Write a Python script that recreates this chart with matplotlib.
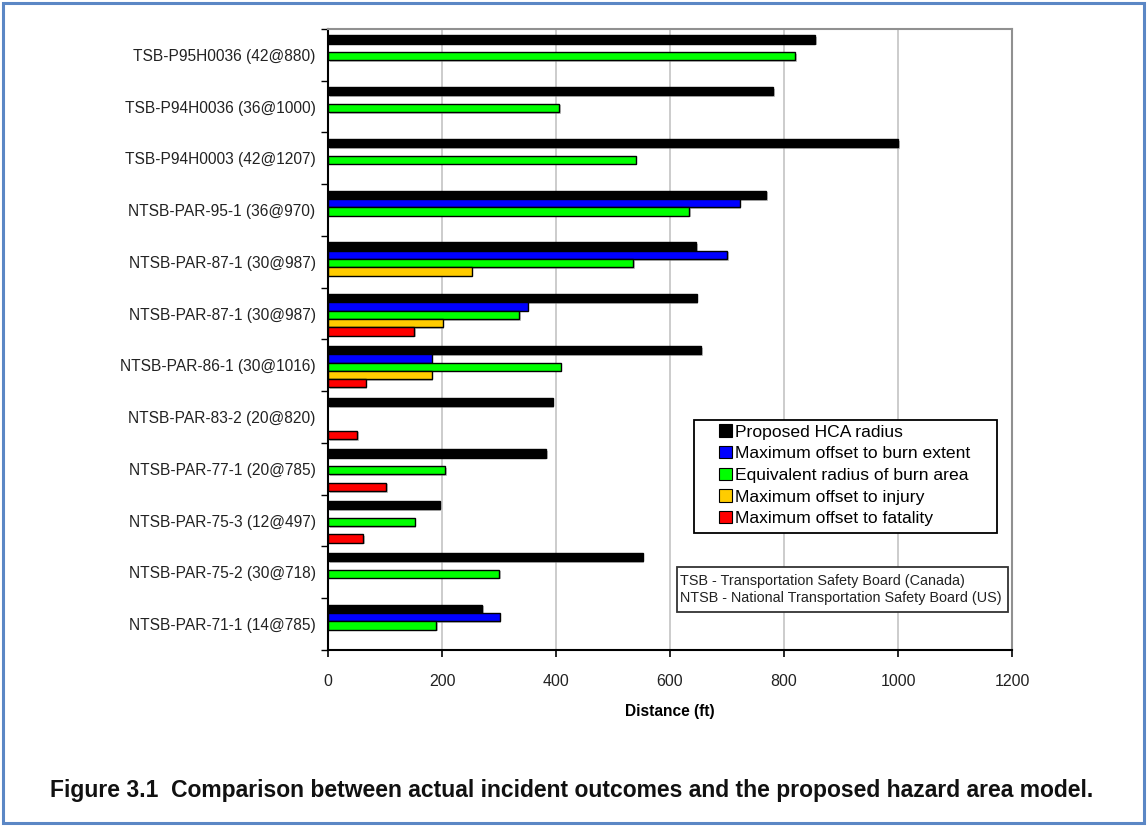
import numpy as np
import matplotlib
matplotlib.use("Agg")
import matplotlib.pyplot as plt
from matplotlib.patches import Rectangle, Patch
import matplotlib.patheffects as pe

plt.rcParams["font.family"] = ["Liberation Sans", "DejaVu Sans"]

# ==========================
# DATA (ft), None = not reported
# ==========================
incidents = [
    "TSB-P95H0036 (42@880)",
    "TSB-P94H0036 (36@1000)",
    "TSB-P94H0003 (42@1207)",
    "NTSB-PAR-95-1 (36@970)",
    "NTSB-PAR-87-1 (30@987)",
    "NTSB-PAR-87-1 (30@987)",
    "NTSB-PAR-86-1 (30@1016)",
    "NTSB-PAR-83-2 (20@820)",
    "NTSB-PAR-77-1 (20@785)",
    "NTSB-PAR-75-3 (12@497)",
    "NTSB-PAR-75-2 (30@718)",
    "NTSB-PAR-71-1 (14@785)",
]
hca_radius = [855, 781, 1000, 769, 646, 647, 655, 394, 383, 196, 552, 270]
burn_extent = [None, None, None, 722, 700, 350, 182, None, None, None, None, 301]
burn_radius = [820, 405, 540, 634, 535, 335, 408, None, 205, 152, 300, 190]
injury = [None, None, None, None, 252, 201, 182, None, None, None, None, None]
fatality = [None, None, None, None, None, 151, 66, 51, 102, 62, None, None]

series_names = [
    "Proposed HCA radius",
    "Maximum offset to burn extent",
    "Equivalent radius of burn area",
    "Maximum offset to injury",
    "Maximum offset to fatality",
]
series_vals = [hca_radius, burn_extent, burn_radius, injury, fatality]
colors = ["#000000", "#0000ff", "#00ff00", "#ffcc00", "#ff0000"]

# ==========================
# FIGURE
# ==========================
fig = plt.figure(figsize=(11.47, 8.26), dpi=100)
fig.patches.append(Rectangle((0.003, 0.004), 0.994, 0.992, transform=fig.transFigure,
                             fill=False, edgecolor="#5b87c5", linewidth=2.2))

ax = fig.add_axes([0.286, 0.2131, 0.5963, 0.7518])

bar_h = 0.16
y_base = np.arange(len(incidents))
shadow = [pe.SimplePatchShadow(offset=(1.2, -1.2), shadow_rgbFace="#888888", alpha=0.5),
          pe.Normal()]

for k, (vals, c) in enumerate(zip(series_vals, colors)):
    ys = [y + (k - 2) * bar_h + 0.025 for y, v in zip(y_base, vals) if v is not None]
    ws = [v for v in vals if v is not None]
    bars = ax.barh(ys, ws, height=bar_h, color=c, edgecolor="black", linewidth=1.0,
                   zorder=3)
    for b in bars:
        b.set_path_effects(shadow)

ax.set_xlim(0, 1200)
ax.set_ylim(len(incidents) - 0.5, -0.5)
ax.set_xticks(np.arange(0, 1201, 200))
ax.set_xticklabels([str(v) for v in range(0, 1201, 200)], fontsize=11.5, color="#222222")
ax.set_yticks(y_base)
ax.set_yticklabels(incidents, fontsize=11.2, color="#222222")
ax.tick_params(axis="y", length=0, pad=9)
ax.set_yticks(np.arange(-0.5, len(incidents), 1.0), minor=True)
ax.tick_params(axis="y", which="minor", length=5, width=1.0, direction="out")
ax.tick_params(axis="x", length=5, width=1.2, direction="out", pad=12)

ax.grid(axis="x", color="#c8c8c8", linewidth=1.3, zorder=0)
ax.set_axisbelow(True)
for s in ["top", "right"]:
    ax.spines[s].set_color("#909090")
    ax.spines[s].set_linewidth(1.5)
for s in ["left", "bottom"]:
    ax.spines[s].set_color("black")
    ax.spines[s].set_linewidth(1.5)

ax.set_xlabel("Distance (ft)", fontsize=11.2, fontweight="bold", labelpad=11)

# legend: frame drawn separately so the wide left margin matches
ax.add_patch(Rectangle((0.535, 0.1884), 0.443, 0.182, transform=ax.transAxes,
                       facecolor="white", edgecolor="black", linewidth=1.3, zorder=5))
handles = [Patch(facecolor=c, edgecolor="black", linewidth=0.8) for c in colors]
leg = ax.legend(handles, series_names, loc="upper left", bbox_to_anchor=(0.572, 0.3635),
                fontsize=12.6, frameon=False,
                handlelength=0.7, handleheight=0.7, handletextpad=0.2,
                labelspacing=0.37, borderpad=0, borderaxespad=0)
leg.set_zorder(6)

ax.add_patch(Rectangle((0.5102, 0.0612), 0.484, 0.0725, transform=ax.transAxes,
                       facecolor="white", edgecolor="#333333", linewidth=1.3, zorder=5))
ax.text(0.5146, 0.0974,
        "TSB - Transportation Safety Board (Canada)\nNTSB - National Transportation Safety Board (US)",
        transform=ax.transAxes, fontsize=10.4, va="center", ha="left", linespacing=1.25,
        color="#222222", zorder=6)

fig.text(0.498, 1 - 790 / 826,
         "Figure 3.1  Comparison between actual incident outcomes and the proposed hazard area model.",
         ha="center", va="center", fontsize=16.5, fontweight="bold", color="#111111")

fig.savefig("out.png", dpi=100)
